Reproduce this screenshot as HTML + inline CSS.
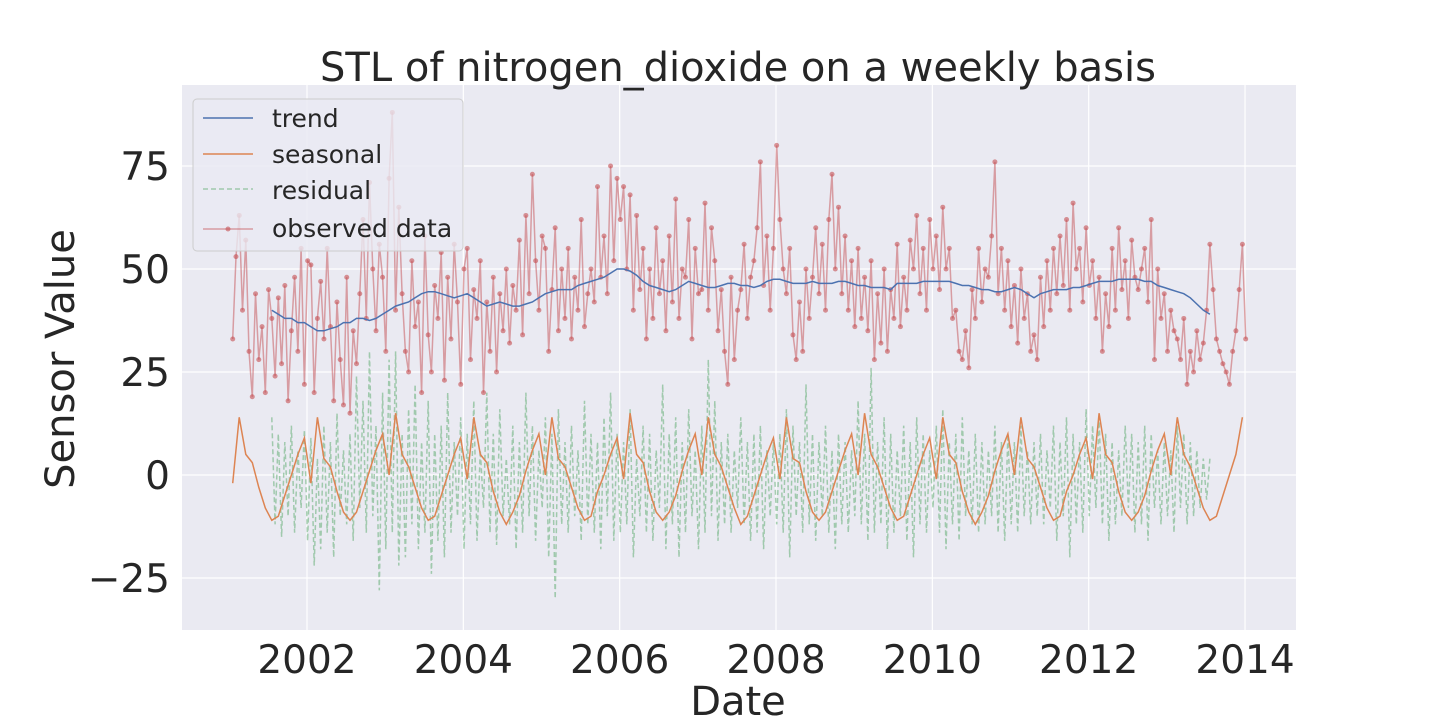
<!DOCTYPE html>
<html><head><meta charset="utf-8"><style>
body{margin:0;background:#fff;}
svg text{font-family:"DejaVu Sans","Liberation Sans",sans-serif;fill:#262626;}
</style></head><body>
<svg id="c" width="1440" height="720" xmlns="http://www.w3.org/2000/svg">
<rect x="182" y="85" width="1114" height="545" fill="#eaeaf2"/>
<g id="grid"></g><g id="series"></g><g id="axes"></g>
<text x="738" y="81" font-size="40" text-anchor="middle">STL of nitrogen_dioxide on a weekly basis</text>
<text x="738" y="715" font-size="40" text-anchor="middle">Date</text>
<text transform="translate(74,359) rotate(-90)" font-size="40" text-anchor="middle">Sensor Value</text>
<g>
<rect x="193" y="99" width="270" height="152" rx="4" fill="#eaeaf2" fill-opacity="0.8" stroke="#cccccc"/>
<g><line x1="203" y1="118" x2="253" y2="118" stroke="#4c72b0" stroke-width="1.5"/><text x="272" y="127" font-size="25">trend</text></g>
<g><line x1="203" y1="154" x2="253" y2="154" stroke="#dd8452" stroke-width="1.5"/><text x="272" y="163" font-size="25">seasonal</text></g>
<g><line x1="203" y1="189" x2="253" y2="189" stroke="#55a868" stroke-opacity="0.5" stroke-width="1.5" stroke-dasharray="5,3"/><text x="272" y="199" font-size="25">residual</text></g>
<g><line x1="203" y1="229" x2="253" y2="229" stroke="#c44e52" stroke-opacity="0.5" stroke-width="1.5"/><circle cx="228" cy="229" r="2.5" fill="#c44e52" fill-opacity="0.6"/><text x="272" y="237" font-size="25">observed data</text></g>
</g>
</svg>
<script>
const xTicks=[2002,2004,2006,2008,2010,2012,2014];
const yTicks=[-25,0,25,50,75];
const yTickLabels=["\u221225","0","25","50","75"];
const obsStart=2001.05, obsStep=1/24;
const observed=[33,53,63,40,57,30,19,44,28,36,20,45,38,24,43,27,46,18,35,48,30,55,22,52,
51,20,38,47,33,55,36,18,42,28,17,48,15,35,27,44,62,38,71,50,35,56,48,30,
72,88,40,65,44,30,25,52,36,42,20,58,34,25,46,38,54,23,48,33,56,42,22,50,
55,28,45,38,52,20,42,30,48,25,44,35,50,32,46,40,57,34,63,44,73,52,40,58,
55,30,45,60,35,50,38,55,33,48,40,62,36,44,50,42,70,48,58,44,75,52,72,62,
70,50,68,40,63,45,55,33,50,38,60,44,52,35,58,42,67,38,50,48,62,33,55,44,
45,66,40,60,52,35,45,30,22,48,28,40,45,56,38,48,52,60,76,46,58,40,55,80,
62,50,44,55,34,28,42,30,50,38,48,60,44,56,40,62,73,50,65,44,58,40,52,36,
55,38,48,35,52,28,44,32,50,30,45,38,56,36,48,40,57,50,63,44,55,40,62,50,
58,45,65,50,55,38,40,30,28,35,26,45,38,55,42,50,48,58,76,44,55,40,52,36,
46,32,50,38,44,30,34,28,48,36,52,40,55,44,58,46,62,40,66,50,55,42,60,46,
52,38,48,30,44,36,55,40,60,45,52,38,57,48,45,50,55,42,62,28,50,38,44,30,
40,35,33,28,38,22,30,25,35,28,32,40,56,45,33,30,27,25,22,30,35,45,56,33];
const seasStart=2001.05, seasStep=1/12;
const seasonal=[-2,14,5,3,-3,-8,-11,-10,-5,0,5,9,
-2,14,4,2,-4,-9,-11,-9,-4,1,6,10,
0,15,5,2,-3,-8,-11,-10,-5,0,5,9,
-1,14,5,3,-4,-9,-12,-9,-5,1,6,10,
0,14,4,2,-3,-8,-11,-10,-4,0,5,9,
-1,15,5,3,-4,-9,-11,-9,-5,1,6,10,
0,14,5,2,-3,-8,-12,-10,-5,0,5,9,
-1,14,4,3,-4,-9,-11,-9,-4,1,6,10,
0,15,5,2,-3,-8,-11,-10,-5,0,5,9,
-1,14,5,3,-4,-9,-12,-9,-5,1,6,10,
0,14,4,2,-3,-8,-11,-10,-4,0,5,9,
-1,15,5,3,-4,-9,-11,-9,-5,1,6,10,
0,14,5,2,-3,-8,-11,-10,-5,0,5,14];
const trendStart=2001.55, trendStep=1/12;
const trend=[40,39,38,38,37,37,36,35,35,35.5,36,37,
37,38,38,37.5,38,39,40,41,41.5,42,43,44,
44.5,44.5,44,43.5,43,43.5,44,43,42,41,41.5,42,
41.5,41,41,41.5,42,43,44,44.5,45,45,45,46,
46.5,47,47.5,48,49,50,50,49.5,48.5,47,46,45.5,
45,44.5,45,46,47,46.5,46,45.5,45.5,46,46.5,46.5,
46,46,45.5,46,47,47.5,47.5,47,46.5,46.5,46.5,47,
46.5,46.5,46.5,47,47,46.5,46,46,45.5,45.5,45.5,45,
46.5,46.5,46.5,46.5,47,47,47,47,47,46.5,46,46,
45.5,45,45,44.5,44.5,45,45.5,45,44,43,44,44.5,
45,45,45,45.5,45.5,46,46.5,47,47,47,47.5,47.5,
47.5,47.5,47,47,46,45.5,45,44.5,44,43,41.5,40,
39];
const resStart=2001.55, resStep=1/24;
const residual=[14,-12,10,-15,8,-10,12,-14,6,-8,11,-16,9,-22,4,-18,12,-14,8,-20,15,-10,6,-12,
10,-16,24,-8,18,-14,30,-10,12,-28,20,-18,28,-14,30,-22,10,-20,16,-12,22,-18,8,-14,
18,-24,10,-16,12,-20,20,-14,8,-10,14,-18,10,-12,18,-16,6,-8,20,-14,10,-17,16,-10,
4,-12,12,-18,8,-14,20,-10,12,-16,6,-8,14,-20,10,-30,16,-12,8,-14,12,-10,6,-16,
18,-12,10,-14,8,-18,14,-10,20,-16,10,-14,8,-12,16,-20,4,-10,12,-14,10,-16,6,-8,
22,-18,10,-12,14,-20,8,-14,16,-10,6,-18,12,-14,28,-10,18,-16,8,-12,10,-14,6,-8,
14,-12,8,-16,10,-14,12,-18,6,-10,8,-12,10,-14,16,-20,12,-10,8,-14,22,-12,10,-16,
8,-10,12,-14,6,-18,10,-12,8,-14,6,-10,18,-12,10,-16,26,-14,8,-12,14,-18,10,-14,
6,-10,12,-16,8,-20,14,-12,10,-14,6,-8,12,-14,16,-18,8,-12,10,-16,14,-10,6,-12,
10,-14,8,-12,6,-10,12,-14,8,-16,10,-12,8,-14,12,-10,6,-12,8,-10,10,-12,6,-8,
12,-16,8,-10,14,-20,10,-12,8,-14,16,-10,12,-8,14,-12,10,-16,8,-12,6,-10,12,-8,
10,-14,8,-12,12,-16,10,-8,6,-12,8,-10,6,-14,12,-8,10,-12,8,-10,6,-8,4,-6,
4];
const X0=182,W=1114,xmin=2000.401,xmax=2014.652;
function xs(t){return X0+(t-xmin)/(xmax-xmin)*W;}
function ys(v){return 475-v*4.12;}
const NS="http://www.w3.org/2000/svg";
function mk(tag,attrs,parent){const e=document.createElementNS(NS,tag);for(const k in attrs)e.setAttribute(k,attrs[k]);parent.appendChild(e);return e;}
const grid=document.getElementById('grid'),axes=document.getElementById('axes'),ser=document.getElementById('series');
xTicks.forEach(t=>{const l=mk('line',{x1:xs(t),x2:xs(t),y1:85,y2:630,stroke:'#fff','stroke-width':1.2},grid);


const tx=mk('text',{x:xs(t),y:673,'font-size':39,'text-anchor':'middle'},axes);tx.textContent=t;

});
yTicks.forEach((v,i)=>{const l=mk('line',{x1:182,x2:1296,y1:ys(v),y2:ys(v),stroke:'#fff','stroke-width':1.2},grid);


const tx=mk('text',{x:170,y:ys(v)+14,'font-size':39,'text-anchor':'end'},axes);tx.textContent=yTickLabels[i];

});
function pts(arr,s0,st){return arr.map((v,i)=>xs(s0+i*st).toFixed(1)+','+ys(v).toFixed(1)).join(' ');}
let p;
p=mk('polyline',{points:pts(residual,resStart,resStep),fill:'none',stroke:'#55a868','stroke-opacity':0.5,'stroke-width':1.5,'stroke-dasharray':'5,3'},ser);


p=mk('polyline',{points:pts(seasonal,seasStart,seasStep),fill:'none',stroke:'#dd8452','stroke-width':1.5},ser);


p=mk('polyline',{points:pts(observed,obsStart,obsStep),fill:'none',stroke:'#c44e52','stroke-opacity':0.5,'stroke-width':1.5},ser);


observed.forEach((v,i)=>{const c=mk('circle',{cx:xs(obsStart+i*obsStep),cy:ys(v),r:2.5,fill:'#c44e52','fill-opacity':0.6},ser);

});
p=mk('polyline',{points:pts(trend,trendStart,trendStep),fill:'none',stroke:'#4c72b0','stroke-width':1.5},ser);


</script>
</body></html>
